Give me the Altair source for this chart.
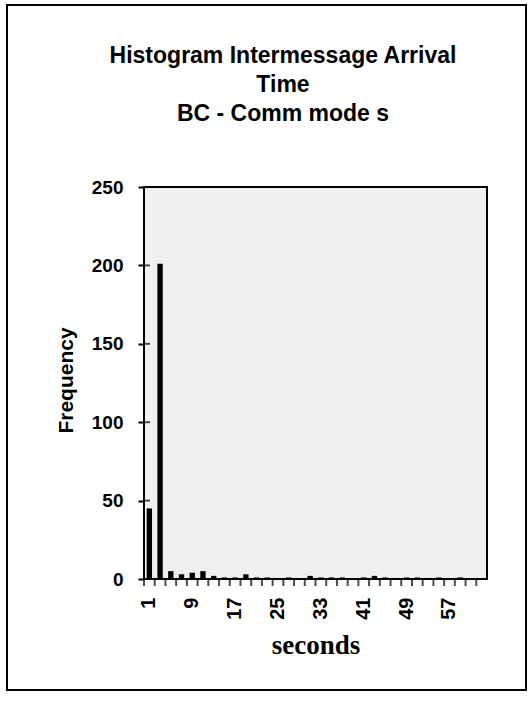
import altair as alt
import pandas as pd

# ---- data ----
seconds = list(range(1, 64, 2))  # bins 1, 3, 5, ..., 63
frequency = [45, 201, 5, 3, 4, 5, 2, 1, 1, 3, 1, 1, 0, 1, 0, 2,
             1, 1, 1, 0, 1, 2, 1, 0, 1, 1, 0, 1, 0, 1, 0, 0]
title_lines = ["Histogram Intermessage Arrival", "Time", "BC - Comm mode s"]
y_ticks = [0, 50, 100, 150, 200, 250]
x_title = "seconds"
y_title = "Frequency"

df = pd.DataFrame({"seconds": seconds, "frequency": frequency})
ydf = pd.DataFrame({"v": y_ticks})
one = pd.DataFrame({"k": [0]})

W, H = 343, 392
SANS = "Liberation Sans"
x_scale = alt.Scale(paddingInner=0, paddingOuter=0)
y_scale = alt.Scale(domain=[0, 250], nice=False)

base = alt.Chart(df)

bars = base.mark_bar(color="black", width=alt.RelativeBandSize(0.5)).encode(
    x=alt.X("seconds:O", scale=x_scale, sort=None,
            axis=alt.Axis(title=x_title, ticks=False, tickSize=0, domain=False,
                          labelAngle=270, labelOverlap=False,
                          labelExpr="datum.value % 8 == 1 ? datum.label : ''",
                          labelPadding=18, labelFont=SANS, labelFontSize=20,
                          labelFontWeight="bold", labelColor="black",
                          titleFont="Liberation Serif", titleFontSize=27,
                          titleFontWeight="bold", titleBaseline="alphabetic",
                          titleY=74, titleColor="black")),
    y=alt.Y("frequency:Q", scale=y_scale,
            axis=alt.Axis(title=y_title, values=y_ticks, grid=False, domain=False,
                          tickSize=6, tickWidth=2, tickColor="black",
                          labelPadding=15, labelFont=SANS, labelFontSize=19,
                          labelFontWeight="bold", labelColor="black",
                          titleFont=SANS, titleFontSize=21, titleFontWeight="bold",
                          titleColor="black", titleAngle=270, titleX=-78, titleY=193,
                          titleBaseline="middle", titleAlign="center")),
)

# crossing tick marks at the category boundaries of the x axis
x_cross = base.mark_tick(orient="vertical", color="black", size=8, thickness=2).encode(
    x=alt.X("seconds:O", scale=x_scale, sort=None, bandPosition=0, axis=None),
    y=alt.value(H + 3),
)
# inward halves of the crossing y ticks
y_cross = alt.Chart(ydf).mark_tick(orient="horizontal", color="black", size=6, thickness=2).encode(
    y=alt.Y("v:Q", scale=y_scale, axis=None),
    x=alt.value(3),
)

frame = alt.Chart(one).mark_rect(fillOpacity=0, stroke="black", strokeWidth=2).encode(
    x=alt.value(-137), x2=alt.value(382), y=alt.value(-182), y2=alt.value(503)
)

title = alt.Chart(one).mark_text(
    font=SANS, fontSize=23, fontWeight="bold", align="center",
    baseline="alphabetic", lineHeight=29, color="black"
).encode(x=alt.value(139), y=alt.value(-124), text=alt.value(title_lines))

chart = alt.layer(bars, x_cross, y_cross, frame, title).resolve_axis(
    x="independent", y="independent"
).properties(
    width=W, height=H,
    autosize=alt.AutoSizeParams(type="none"),
    padding={"left": 144, "top": 187, "right": 43, "bottom": 125},
    background="white",
).configure_view(stroke="black", strokeWidth=2, fill="#f0f0f0")

chart.save("out.html", embed_options={"renderer": "svg", "actions": False})
